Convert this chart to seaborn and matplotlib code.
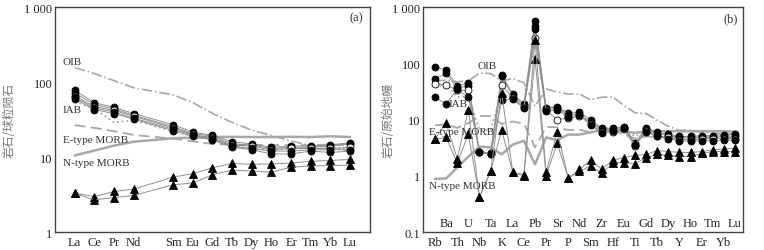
import numpy as np
import pandas as pd
import matplotlib
matplotlib.use('Agg')
import matplotlib.pyplot as plt
import seaborn as sns

# ---------- panel (a): chondrite-normalised REE ----------
ree_names = ['La', 'Ce', 'Pr', 'Nd', 'Sm', 'Eu', 'Gd', 'Tb', 'Dy', 'Ho', 'Er', 'Tm', 'Yb', 'Lu']
ree_pos = [1, 2, 3, 4, 6, 7, 8, 9, 10, 11, 12, 13, 14, 15]   # Pm slot left empty

a_oib = [156, 130, 104.5, 84, 67.6, 53.3, 38.3, 29, 22.8, 19.4, 16.4, 14.2, 13.4, 12.2]
a_emorb = [26.6, 24.5, 22.1, 19.7, 17.6, 16.2, 14.9, 14.7, 14.4, 14.5, 14.4, 14.4, 14.7, 14.4]
a_nmorb = [10.5, 12.2, 14.2, 16, 17.8, 18.1, 18.5, 18.6, 18.5, 18.5, 18.6, 18.5, 18.9, 18.5]
a_iab = [55, 44, 29, 31, 22, 19, 17, 14, 13, 12.5, 13, 13, 13, 13]

a_circ1 = [78, 53, 46, 38, 27, 21.5, 19.5, 16, 15, 13.5, 14, 14, 14.5, 15.5]
a_circ2 = [72, 50, 44, 36, 25.5, 20.5, 19, 15, 14.5, 13, 13.5, 13.5, 14, 15]
a_circ3 = [66, 47, 42, 35, 24.5, 20, 18, 14.5, 14, 12.5, 13, 13, 13, 13.5]
a_circ4 = [63, 45, 40, 33, 23.5, 19.5, 17.5, 14, 13, 12, 12, 12.5, 12.5, 12.5]
a_circ5 = [60, 43, 38, 32, 22.5, 19, 17, 13.5, 12.5, 11, 11, 12, 11.5, 12]
a_tri1 = [3.3, 2.97, 3.47, 3.73, 5.4, 6.0, 7.2, 8.2, 8.0, 8.1, 8.3, 8.8, 9.0, 9.3]
a_tri2 = [3.3, 2.68, 2.88, 3.07, 4.27, 4.5, 5.8, 6.7, 6.5, 6.3, 7.3, 7.6, 7.7, 7.8]

# ---------- panel (b): primitive-mantle-normalised spider ----------
pm_names = ['Rb', 'Ba', 'Th', 'U', 'Nb', 'Ta', 'K', 'La', 'Ce', 'Pb', 'Pr', 'Sr', 'P', 'Nd',
            'Sm', 'Zr', 'Hf', 'Eu', 'Ti', 'Gd', 'Tb', 'Dy', 'Y', 'Ho', 'Er', 'Tm', 'Yb', 'Lu']

b_oib = [48.8, 50, 47, 48.6, 67, 66, 48, 54, 45, 17.3, 35, 31, 28.4, 28.4,
         22.5, 25, 25.2, 17.9, 13.2, 12.8, 9.7, 7.6, 6.4, 6.5, 5.9, 5.7, 5.6, 5.5]
b_emorb = [7.9, 8.2, 7.1, 8.6, 11.6, 11.5, 8.4, 9.2, 8.5, 3.2, 7.4, 7.3, 6.5, 6.6,
           5.9, 6.5, 6.6, 5.4, 4.6, 5.0, 4.9, 4.8, 4.8, 4.8, 4.8, 4.8, 4.8, 4.8]
b_nmorb = [0.88, 0.9, 1.4, 2.2, 3.3, 3.2, 2.4, 3.6, 4.2, 1.6, 4.8, 4.3, 5.4, 5.4,
           5.9, 6.6, 6.6, 6.1, 5.8, 6.2, 6.2, 6.2, 6.2, 6.2, 6.2, 6.2, 6.2, 6.1]
b_iab = [38, 42, 25, 26, 6.5, 6.5, 30, 22, 17, 300, 15, 18, 10, 12,
         9, 7, 7, 7, 5, 6, 5.5, 5, 4.8, 4.8, 4.8, 4.8, 4.9, 5.0]

b_circ1 = [87, 75, 40, 44, 2.7, 2.5, 63, 28, 19, 570, 16, 17, 13, 13.5,
           10, 7, 7, 7.5, 3.9, 7, 6, 5.5, 5.0, 5.0, 5.2, 5.2, 5.4, 5.6]
b_circ2 = [53, 66, 36, 40, 2.6, 2.5, 59, 26, 18, 460, 15, 16, 12.3, 12.5,
           9, 6.5, 6.5, 7, 3.6, 6.8, 5.6, 5.2, 4.8, 4.7, 4.9, 4.9, 5.0, 5.2]
b_circ3 = [43, 42, 33, 33, 2.7, 2.4, 42, 24, 16.5, 285, 14.5, 10, 10.7, 11.5,
           8.5, 6, 6, 6.8, 3.4, 6.3, 5.2, 4.8, 4.4, 4.4, 4.5, 4.6, 4.6, 4.6]
b_circ4 = [25, 19, 35, 25, 2.6, 2.45, 22, 23, 16, 400, 14, 15, 11, 12,
           8, 5.7, 6.2, 7.2, 3.5, 6, 5, 4.6, 4.2, 4.1, 4.2, 4.2, 4.3, 4.3]
b_tri1 = [4.5, 4.8, 1.7, 5.5, 0.42, 1.2, 6.5, 1.15, 1.0, 120, 1.0, 3.8, 0.9, 1.2,
          1.5, 1.1, 1.7, 1.7, 1.65, 2.1, 2.4, 2.3, 2.2, 2.2, 2.5, 2.7, 2.7, 2.7]
b_tri2 = [4.5, 8.7, 2.0, 15, 0.42, 1.2, 30, 1.15, 1.05, 260, 1.15, 6, 0.9, 1.3,
          1.9, 1.3, 1.9, 2.1, 2.3, 2.4, 2.8, 2.7, 2.6, 2.6, 2.7, 2.9, 3.0, 3.1]

SERIF = 'Liberation Serif'
LINE_GRAY = '#909090'
REF_GRAY = '#a8a8a8'


def draw(ax, x, y, color, lw, ls='-', marker=None, mfc='black', mec='black', ms=5, z=2):
    """draw one series through seaborn"""
    df = pd.DataFrame({'x': x, 'y': y})
    sns.lineplot(data=df, x='x', y='y', ax=ax, color=color, linewidth=lw,
                 linestyle=ls, marker=marker if marker else None,
                 markersize=ms, markerfacecolor=mfc, markeredgecolor=mec,
                 markeredgewidth=0.6, estimator=None, sort=False, zorder=z)


def style_axes(ax, ylim, yticks, yticklabels, xlim):
    ax.set_yscale('log')
    ax.set_ylim(*ylim)
    ax.set_xlim(*xlim)
    ax.set_yticks(yticks)
    ax.set_yticklabels(yticklabels, family=SERIF, fontsize=9, color='#222222')
    ax.yaxis.set_minor_locator(matplotlib.ticker.NullLocator())
    ax.tick_params(axis='both', direction='in', length=3, width=0.7, colors='#444444')
    ax.tick_params(axis='y', labelcolor='#222222', pad=2)
    for sp in ax.spines.values():
        sp.set_color('#444444')
        sp.set_linewidth(1.0)
    ax.set_xlabel('')


def draw_panel_a(ax):
    draw(ax, ree_pos, a_oib, REF_GRAY, 1.2, ls='-.', z=1)
    draw(ax, ree_pos, a_emorb, REF_GRAY, 1.3, ls=(0, (6, 3)), z=1)
    draw(ax, ree_pos, a_nmorb, REF_GRAY, 1.8, z=1)
    draw(ax, ree_pos, a_iab, REF_GRAY, 1.3, ls=':', z=1)
    for i, s in enumerate([a_circ1, a_circ2, a_circ3, a_circ4, a_circ5]):
        face = 'white' if i == 2 else 'black'
        draw(ax, ree_pos, s, LINE_GRAY, 0.7, marker='o', mfc=face, ms=5)
    for s in [a_tri1, a_tri2]:
        draw(ax, ree_pos, s, LINE_GRAY, 0.7, marker='^', ms=5.5)

    style_axes(ax, (1, 1000), [1, 10, 100, 1000], ['1', '10', '100', '1 000'], (0, 16))
    ax.set_xticks(range(1, 16))
    labels = []
    k = 0
    for p in range(1, 16):
        if p in ree_pos:
            labels.append(ree_names[k])
            k += 1
        else:
            labels.append('')
    ax.set_xticklabels(labels, family=SERIF, fontsize=9, color='#222222')
    ax.tick_params(axis='x', pad=3)
    ax.set_ylabel('岩石/球粒陨石', family=['Noto Sans CJK SC', 'DejaVu Sans'],
                  fontsize=8.5, color='#777777')
    ax.yaxis.set_label_coords(-0.125, 0.5)

    txt = dict(family=SERIF, fontsize=8, color='#333333', va='center', ha='left')
    ax.text(0.025, 0.76, 'OIB', transform=ax.transAxes, **txt)
    ax.text(0.025, 0.546, 'IAB', transform=ax.transAxes, **txt)
    ax.text(0.025, 0.41, 'E-type MORB', transform=ax.transAxes, **txt)
    ax.text(0.025, 0.307, 'N-type MORB', transform=ax.transAxes, **txt)
    ax.text(0.98, 0.955, '(a)', transform=ax.transAxes, family=SERIF, fontsize=9,
            color='#333333', ha='right', va='center')


def draw_panel_b(ax):
    pos = list(range(1, len(pm_names) + 1))
    draw(ax, pos, b_oib, REF_GRAY, 1.2, ls='-.', z=1)
    draw(ax, pos, b_emorb, REF_GRAY, 1.3, ls=(0, (6, 3)), z=1)
    draw(ax, pos, b_nmorb, REF_GRAY, 1.8, z=1)
    draw(ax, pos, b_iab, REF_GRAY, 1.3, ls=':', z=1)
    for i, s in enumerate([b_circ1, b_circ2, b_circ3, b_circ4]):
        face = 'white' if i == 2 else 'black'
        draw(ax, pos, s, LINE_GRAY, 0.7, marker='o', mfc=face, ms=5)
    for s in [b_tri1, b_tri2]:
        draw(ax, pos, s, LINE_GRAY, 0.7, marker='^', ms=5.5)

    style_axes(ax, (0.1, 1000), [0.1, 1, 10, 100, 1000],
               ['0.1', '1', '10', '100', '1 000'], (-0.08, 28.72))
    ax.set_xticks(pos)
    # odd elements below the axis, even ones on a second row inside the plot
    ax.set_xticklabels([n if i % 2 == 0 else '' for i, n in enumerate(pm_names)],
                       family=SERIF, fontsize=9, color='#222222')
    ax.tick_params(axis='x', pad=3)
    for i, n in enumerate(pm_names):
        if i % 2 == 1:
            ax.text(pos[i], 0.04, n, transform=ax.get_xaxis_transform(), family=SERIF,
                    fontsize=9, color='#222222', ha='center', va='center')
    ax.set_ylabel('岩石/原始地幔', family=['Noto Sans CJK SC', 'DejaVu Sans'],
                  fontsize=8.5, color='#777777')
    ax.yaxis.set_label_coords(-0.088, 0.5)

    txt = dict(family=SERIF, fontsize=8, color='#333333', va='center', ha='left')
    ax.text(0.17, 0.742, 'OIB', transform=ax.transAxes, **txt)
    ax.text(0.08, 0.57, 'IAB', transform=ax.transAxes, **txt)
    ax.text(0.02, 0.448, 'E-type MORB', transform=ax.transAxes, **txt)
    ax.text(0.02, 0.208, 'N-type MORB', transform=ax.transAxes, **txt)
    ax.text(0.985, 0.95, '(b)', transform=ax.transAxes, family=SERIF, fontsize=9,
            color='#333333', ha='right', va='center')


def main():
    sns.set_theme(style='white')
    plt.rcParams['font.family'] = [SERIF, 'Noto Sans CJK SC', 'DejaVu Sans']

    fig = plt.figure(figsize=(7.64, 2.51), dpi=100)
    ax_a = fig.add_axes([0.072, 0.0717, 0.412, 0.896])
    ax_b = fig.add_axes([0.5537, 0.0717, 0.4188, 0.896])
    draw_panel_a(ax_a)
    draw_panel_b(ax_b)
    fig.savefig('out.png', dpi=100)
    plt.close(fig)


if __name__ == "__main__":
    main()
